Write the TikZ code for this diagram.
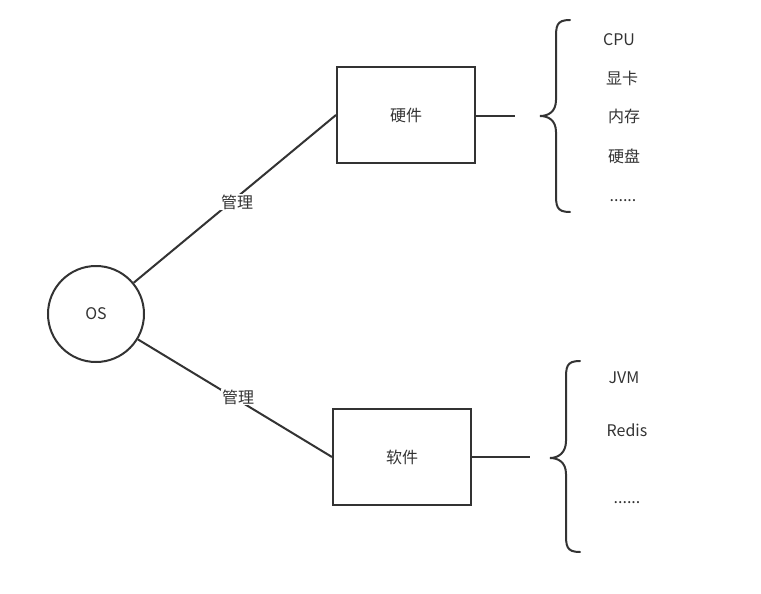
\documentclass[tikz,border=0pt]{standalone}
\usepackage{fontspec}
\setmainfont{Noto Sans CJK SC}
\usetikzlibrary{positioning}
\definecolor{ink}{HTML}{333333}
\tikzset{
	box/.style={draw=ink, line width=2pt, minimum width=138pt, minimum height=96pt},
	item/.style={text=ink, font=\fontsize{16}{19}\selectfont},
	lbl/.style={fill=white, inner sep=1pt, text=ink, font=\fontsize{16}{19}\selectfont}
}
\begin{document}
\begin{tikzpicture}[x=1pt, y=-1pt, line width=2pt, draw=ink]
\useasboundingbox (0,0) rectangle (761,594);
\node[circle, draw=ink, line width=2pt, minimum size=96pt, item] (os) at (96,314) {OS};
\node[box, item] (hw) at (406,115) {硬件};
\node[box, item] (sw) at (402,457) {软件};
\coordinate (hwend) at (515,116);
\coordinate (swend) at (530,457);
\draw[ink] (os) -- (hw.west);
\draw[ink] (os) -- (sw.west);
\node[lbl] (m1) at (237,202) {管理};
\node[lbl] (m2) at (238,397) {管理};
\draw[ink] (hw.east |- hwend) -- (hwend);
\draw[ink] (sw.east |- swend) -- (swend);
% braces
\draw[ink, line cap=round] (570,20) .. controls (556,20) and (556,26) .. (556,40) -- (556,100)
	.. controls (556,112) and (548,116) .. (540,116) .. controls (548,116) and (556,120) .. (556,132)
	-- (556,192) .. controls (556,206) and (556,212) .. (570,212);
\draw[ink, line cap=round] (580,361) .. controls (566,361) and (566,367) .. (566,381) -- (566,441)
	.. controls (566,453) and (558,458) .. (550,458) .. controls (558,458) and (566,462) .. (566,474)
	-- (566,532) .. controls (566,546) and (566,552) .. (580,552);
\node[item] (cpu) at (619,40) {CPU};
\node[item] (gpu) at (622,78) {显卡};
\node[item] (mem) at (624,116) {内存};
\node[item] (disk) at (624,156) {硬盘};
\node[item] (hwmore) at (623,201) {......};
\node[item] (jvm) at (624,378) {JVM};
\node[item] (redis) at (627,430) {Redis};
\node[item] (swmore) at (627,503) {......};
\end{tikzpicture}
\end{document}
